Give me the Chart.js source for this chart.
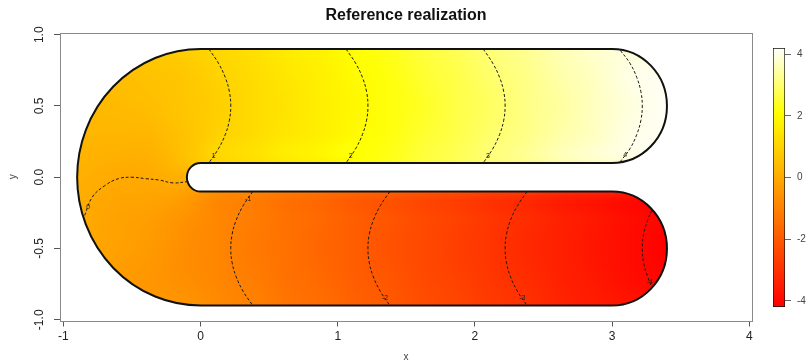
<!DOCTYPE html>
<html>
<head>
<meta charset="utf-8">
<title>Reference realization</title>
<script src="https://cdn.jsdelivr.net/npm/chart.js@4.4.1/dist/chart.umd.min.js"></script>
<style>
  html, body { margin: 0; padding: 0; background: #fff; }
  #wrap { position: relative; width: 806px; height: 363px; overflow: hidden; }
  #field { position: absolute; left: 0; top: 0; }
  #scale { position: absolute; left: 755px; top: 0; }
</style>
</head>
<body>
<div id="wrap">
  <canvas id="field" width="806" height="363"></canvas>
  <canvas id="scale" width="70" height="363"></canvas>
</div>
<script>
Chart.defaults.font.family = '"Liberation Sans", Arial, Helvetica, sans-serif';
Chart.defaults.color = '#222';

// cell centres of the field grid
const xCells = [-0.875, -0.625, -0.375, -0.125, 0.125, 0.375, 0.625, 0.875, 1.125,
                1.375, 1.625, 1.875, 2.125, 2.375, 2.625, 2.875, 3.125, 3.375];
const yCells = [0.9, 0.7, 0.5, 0.3, 0.1, -0.1, -0.3, -0.5, -0.7, -0.9];

// field values, upper arm (y = 0.9 ... 0.1), null = outside the domain
const zUpper = [
  [null, null, null, 0.9, 1.1, 1.3, 1.6, 1.8, 2.1, 2.3, 2.6, 2.8, 3.1, 3.3, 3.6, 3.8, null, null],
  [null, null, 0.6, 0.7, 1.0, 1.2, 1.5, 1.7, 2.0, 2.2, 2.5, 2.7, 3.0, 3.2, 3.5, 3.7, 4.0, null],
  [null, 0.4, 0.5, 0.7, 0.9, 1.2, 1.4, 1.7, 1.9, 2.2, 2.4, 2.7, 2.9, 3.2, 3.4, 3.7, 3.9, 4.2],
  [0.3, 0.3, 0.3, 0.6, 1.0, 1.2, 1.5, 1.7, 2.0, 2.2, 2.5, 2.7, 3.0, 3.2, 3.5, 3.7, 4.0, null],
  [0.2, 0.1, 0.1, 0.5, 1.1, 1.3, 1.6, 1.8, 2.1, 2.3, 2.6, 2.8, 3.1, 3.3, 3.6, 3.8, null, null]
];
// lower arm (y = -0.1 ... -0.9)
const zLower = [
  [0.1, -0.1, -0.1, -0.2, -0.8, -1.0, -1.3, -1.5, -1.8, -2.0, -2.3, -2.5, -2.8, -3.0, -3.3, -3.5, null, null],
  [0.0, -0.2, -0.3, -0.6, -0.9, -1.1, -1.4, -1.6, -1.9, -2.1, -2.4, -2.6, -2.9, -3.1, -3.4, -3.6, -3.9, null],
  [null, -0.2, -0.4, -0.7, -0.9, -1.2, -1.4, -1.7, -1.9, -2.2, -2.4, -2.7, -2.9, -3.2, -3.4, -3.7, -3.9, -4.2],
  [null, null, -0.5, -0.7, -0.9, -1.1, -1.4, -1.6, -1.9, -2.1, -2.4, -2.6, -2.9, -3.1, -3.4, -3.6, -3.9, null],
  [null, null, null, -0.5, -0.8, -1.0, -1.3, -1.5, -1.8, -2.0, -2.3, -2.5, -2.8, -3.0, -3.3, -3.5, null, null]
];

const zMin = -4.2, zMax = 4.2;
const xTicks = [-1, 0, 1, 2, 3, 4];
const yTicks = [-1, -0.5, 0, 0.5, 1];
const legendTicks = [-4, -2, 0, 2, 4];

// horseshoe domain
const armLength = 3, outerRadius = 0.9, innerRadius = 0.1, capRadius = 0.4, armCentre = 0.5;

// contour lines
const contourLevels = [1, 2, 3, 4, 0, -1, -2, -3, -4];
const contourP1 = [[0.06, 0.9], [0.13, 0.8], [0.18, 0.7], [0.21, 0.6], [0.22, 0.5], [0.21, 0.4], [0.18, 0.3], [0.13, 0.2], [0.06, 0.1]];
const contourP2 = [[1.06, 0.9], [1.13, 0.8], [1.18, 0.7], [1.21, 0.6], [1.22, 0.5], [1.21, 0.4], [1.18, 0.3], [1.13, 0.2], [1.06, 0.1]];
const contourP3 = [[2.06, 0.9], [2.13, 0.8], [2.18, 0.7], [2.21, 0.6], [2.22, 0.5], [2.21, 0.4], [2.18, 0.3], [2.13, 0.2], [2.06, 0.1]];
const contourP4 = [[3.06, 0.89], [3.13, 0.8], [3.18, 0.7], [3.21, 0.6], [3.22, 0.5], [3.21, 0.4], [3.18, 0.3], [3.13, 0.2], [3.06, 0.11]];
const contourZero = [[-0.09, -0.03], [-0.2, -0.04], [-0.3, -0.02], [-0.4, -0.01], [-0.5, 0], [-0.6, -0.01], [-0.7, -0.06], [-0.79, -0.14], [-0.85, -0.28]];
const contourM1 = [[0.38, -0.1], [0.31, -0.2], [0.26, -0.3], [0.23, -0.4], [0.22, -0.5], [0.23, -0.6], [0.26, -0.7], [0.31, -0.8], [0.38, -0.9]];
const contourM2 = [[1.38, -0.1], [1.31, -0.2], [1.26, -0.3], [1.23, -0.4], [1.22, -0.5], [1.23, -0.6], [1.26, -0.7], [1.31, -0.8], [1.38, -0.9]];
const contourM3 = [[2.38, -0.1], [2.31, -0.2], [2.26, -0.3], [2.23, -0.4], [2.22, -0.5], [2.23, -0.6], [2.26, -0.7], [2.31, -0.8], [2.38, -0.9]];
const contourM4 = [[3.29, -0.23], [3.26, -0.3], [3.23, -0.4], [3.22, -0.5], [3.23, -0.6], [3.26, -0.7], [3.29, -0.77]];
const contourLines = [contourP1, contourP2, contourP3, contourP4, contourZero, contourM1, contourM2, contourM3, contourM4];
// segment on each line where its level is printed
const contourLabelAt = [7, 7, 7, 7, 7, 0, 7, 7, 5];

// heat palette: red -> yellow, then yellow -> white
function heatColor(v) {
  const t = Math.max(0, Math.min(1, (v - zMin) / (zMax - zMin)));
  if (t <= 0.75) return [255, Math.round(255 * t / 0.75), 0];
  const s = Math.max(1 - (t - 0.75) / 0.25, 0.03);
  return [255, 255, Math.round(255 * (1 - s))];
}
const rgb = c => 'rgb(' + c[0] + ',' + c[1] + ',' + c[2] + ')';

// give cells outside the domain the mean of their neighbours so edges blend
function fillGaps(rows) {
  let g = rows.map(r => r.slice());
  for (let pass = 0; pass < 10; pass++) {
    let missing = false;
    const next = g.map(r => r.slice());
    g.forEach((r, j) => r.forEach((v, i) => {
      if (v !== null) return;
      let s = 0, n = 0;
      [[0, 1], [0, -1], [1, 0], [-1, 0]].forEach(d => {
        const row = g[j + d[0]];
        const w = row ? row[i + d[1]] : undefined;
        if (w !== undefined && w !== null) { s += w; n++; }
      });
      if (n) next[j][i] = s / n; else missing = true;
    }));
    g = next;
    if (!missing) break;
  }
  return g;
}

function fieldCanvas() {
  const rows = fillGaps(zUpper.concat(zLower));
  const c = document.createElement('canvas');
  c.width = xCells.length;
  c.height = rows.length;
  const g = c.getContext('2d');
  const img = g.createImageData(c.width, c.height);
  rows.forEach((row, j) => row.forEach((v, i) => {
    const col = heatColor(v), o = (j * c.width + i) * 4;
    img.data[o] = col[0]; img.data[o + 1] = col[1]; img.data[o + 2] = col[2]; img.data[o + 3] = 255;
  }));
  g.putImageData(img, 0, 0);
  return c;
}

function tracePath(ctx, xs, ys) {
  const px = v => xs.getPixelForValue(v), py = v => ys.getPixelForValue(v);
  const kx = px(1) - px(0), ky = py(0) - py(1);
  ctx.beginPath();
  ctx.moveTo(px(0), py(outerRadius));
  ctx.lineTo(px(armLength), py(outerRadius));
  ctx.ellipse(px(armLength), py(armCentre), capRadius * kx, capRadius * ky, 0, -Math.PI / 2, Math.PI / 2, false);
  ctx.lineTo(px(0), py(innerRadius));
  ctx.ellipse(px(0), py(0), innerRadius * kx, innerRadius * ky, 0, -Math.PI / 2, Math.PI / 2, true);
  ctx.lineTo(px(armLength), py(-innerRadius));
  ctx.ellipse(px(armLength), py(-armCentre), capRadius * kx, capRadius * ky, 0, -Math.PI / 2, Math.PI / 2, false);
  ctx.lineTo(px(0), py(-outerRadius));
  ctx.ellipse(px(0), py(0), outerRadius * kx, outerRadius * ky, 0, Math.PI / 2, Math.PI * 1.5, false);
  ctx.closePath();
}

const horseshoe = {
  id: 'horseshoe',
  beforeDatasetsDraw(chart) {
    const ctx = chart.ctx, xs = chart.scales.x, ys = chart.scales.y;
    const dx = xCells[1] - xCells[0], dy = yCells[0] - yCells[1];
    const x0 = xs.getPixelForValue(xCells[0] - dx / 2);
    const x1 = xs.getPixelForValue(xCells[xCells.length - 1] + dx / 2);
    const y0 = ys.getPixelForValue(yCells[0] + dy / 2);
    const y1 = ys.getPixelForValue(yCells[yCells.length - 1] - dy / 2);
    ctx.save();
    tracePath(ctx, xs, ys);
    ctx.clip();
    ctx.imageSmoothingEnabled = true;
    ctx.imageSmoothingQuality = 'high';
    ctx.drawImage(fieldCanvas(), x0, y0, x1 - x0, y1 - y0);
    ctx.restore();
  },
  afterDatasetsDraw(chart) {
    const ctx = chart.ctx, xs = chart.scales.x, ys = chart.scales.y;
    ctx.save();
    tracePath(ctx, xs, ys);
    ctx.lineWidth = 2;
    ctx.lineJoin = 'round';
    ctx.strokeStyle = '#111';
    ctx.stroke();

    // level labels on the contours
    ctx.font = '7px "Liberation Sans", Arial, sans-serif';
    ctx.fillStyle = '#222';
    ctx.textAlign = 'center';
    ctx.textBaseline = 'middle';
    contourLines.forEach((pts, k) => {
      const i = contourLabelAt[k];
      const a = pts[i], b = pts[i + 1] || pts[i];
      ctx.fillText(String(contourLevels[k]),
        xs.getPixelForValue((a[0] + b[0]) / 2), ys.getPixelForValue((a[1] + b[1]) / 2));
    });
    ctx.restore();
  },
  afterDraw(chart) {
    const a = chart.chartArea, ctx = chart.ctx;
    ctx.save();
    ctx.strokeStyle = '#8a8a8a';
    ctx.lineWidth = 1;
    ctx.strokeRect(Math.round(a.left) + 0.5, Math.round(a.top) + 0.5,
      Math.round(a.right - a.left), Math.round(a.bottom - a.top));
    ctx.restore();
  }
};

new Chart(document.getElementById('field'), {
  type: 'scatter',
  data: {
    datasets: contourLines.map((pts, k) => ({
      label: String(contourLevels[k]),
      data: pts.map(p => ({ x: p[0], y: p[1] })),
      showLine: true,
      pointRadius: 0,
      borderColor: '#1a1a1a',
      borderWidth: 1,
      borderDash: [3, 2],
      tension: 0.4,
      fill: false
    }))
  },
  options: {
    responsive: false,
    animation: false,
    layout: { padding: { left: 0, right: 54, top: 0, bottom: 0 } },
    plugins: {
      legend: { display: false },
      tooltip: { enabled: false },
      title: {
        display: true,
        fullSize: false,
        text: 'Reference realization',
        color: '#111',
        font: { size: 16, weight: 'bold', lineHeight: 1.2 },
        padding: { top: 6, bottom: 7.8 }
      }
    },
    scales: {
      x: {
        type: 'linear',
        min: -1.025, max: 4.02,
        afterBuildTicks: s => { s.ticks = xTicks.map(v => ({ value: v })); },
        afterFit: s => { s.height = 42.5; },
        grid: { drawOnChartArea: false, tickLength: 6, color: '#555' },
        border: { display: false },
        ticks: { padding: 3, autoSkip: false, maxRotation: 0, color: '#222', font: { size: 12 } },
        title: { display: true, text: 'x', color: '#444', font: { size: 10 }, padding: { top: 0, bottom: 0 } }
      },
      y: {
        type: 'linear',
        min: -1.005, max: 1.012,
        afterBuildTicks: s => { s.ticks = yTicks.map(v => ({ value: v })); },
        afterFit: s => { s.width = 60; },
        grid: { drawOnChartArea: false, tickLength: 6, color: '#555' },
        border: { display: false },
        ticks: {
          minRotation: 90, maxRotation: 90, crossAlign: 'center', padding: 4, autoSkip: false,
          color: '#222', font: { size: 12 },
          callback: v => Number(v).toFixed(1)
        },
        title: { display: true, text: 'y', color: '#444', font: { size: 10 }, padding: { top: 7, bottom: 0 } }
      }
    }
  },
  plugins: [horseshoe]
});

// colour strip beside the map
function stripFill(chart) {
  if (!chart.chartArea) return '#ffa500';
  const y = chart.scales.y;
  const grad = chart.ctx.createLinearGradient(0, y.getPixelForValue(zMin), 0, y.getPixelForValue(zMax));
  for (let k = 0; k <= 64; k++) {
    grad.addColorStop(k / 64, rgb(heatColor(zMin + (zMax - zMin) * k / 64)));
  }
  return grad;
}

new Chart(document.getElementById('scale'), {
  type: 'bar',
  data: {
    labels: [''],
    datasets: [{
      data: [[zMin, zMax]],
      backgroundColor: c => stripFill(c.chart),
      borderColor: '#111',
      borderWidth: 1,
      borderSkipped: false,
      barPercentage: 1,
      categoryPercentage: 1
    }]
  },
  options: {
    responsive: false,
    animation: false,
    layout: { padding: { left: 18, right: 0, top: 48, bottom: 56 } },
    plugins: { legend: { display: false }, tooltip: { enabled: false } },
    scales: {
      x: { display: false },
      y: {
        position: 'right',
        min: zMin, max: zMax,
        afterBuildTicks: s => { s.ticks = legendTicks.map(v => ({ value: v })); },
        afterFit: s => { s.width = 40; },
        grid: { drawOnChartArea: false, tickLength: 6, color: '#666' },
        border: { display: false },
        ticks: { padding: 6, color: '#444', font: { size: 10 } }
      }
    }
  }
});
</script>
</body>
</html>
